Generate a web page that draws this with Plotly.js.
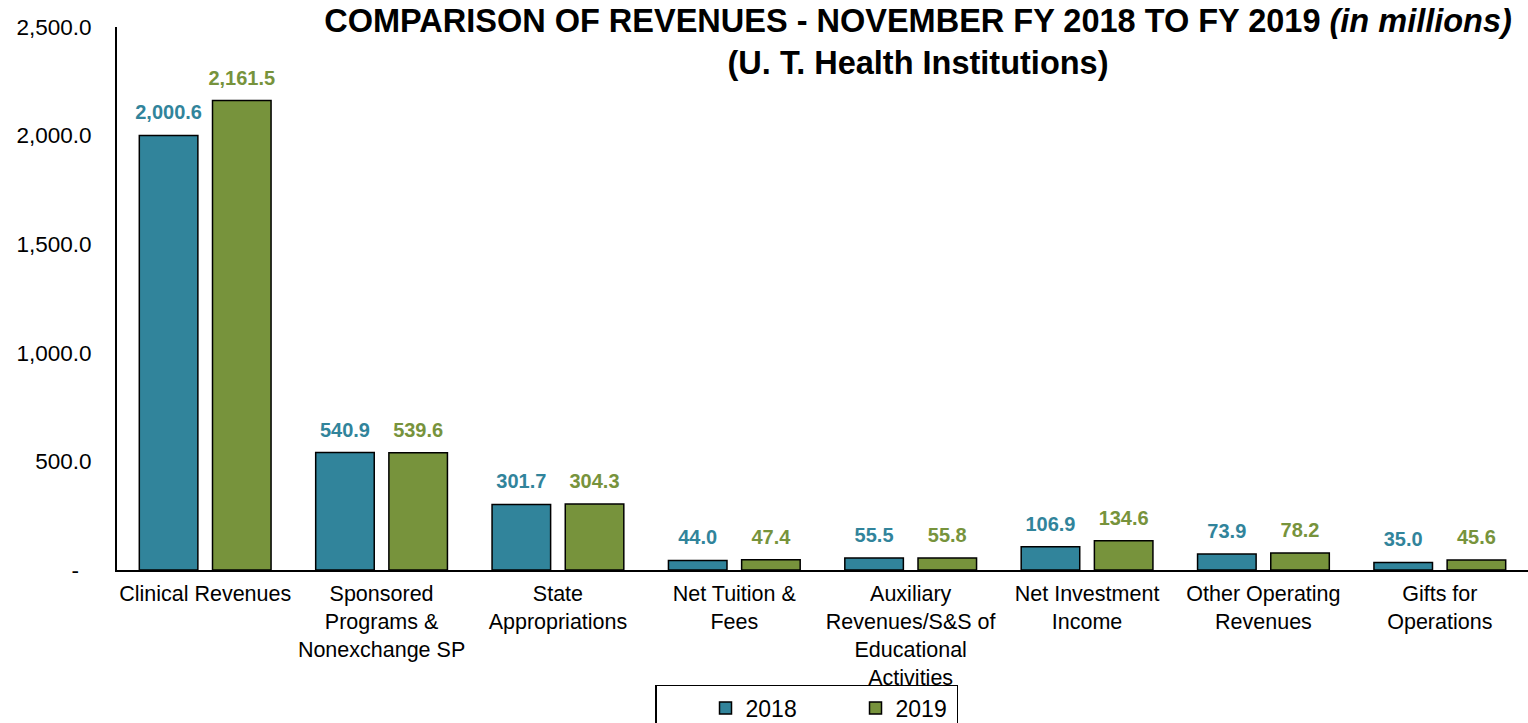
<!DOCTYPE html>
<html>
<head>
<meta charset="utf-8">
<script src="https://cdn.plot.ly/plotly-3.0.1.min.js"></script>
<style>
  html, body { margin: 0; padding: 0; background: #ffffff; }
  #chart { width: 1528px; height: 723px; }
</style>
</head>
<body>
<div id="chart"></div>
<script>
// ---- data ----
const categories = [
  "Clinical Revenues",
  "Sponsored<br>Programs &amp;<br>Nonexchange SP",
  "State<br>Appropriations",
  "Net Tuition &amp;<br>Fees",
  "Auxiliary<br>Revenues/S&amp;S of<br>Educational<br>Activities",
  "Net Investment<br>Income",
  "Other Operating<br>Revenues",
  "Gifts for<br>Operations"
];
const values2018 = [2000.6, 540.9, 301.7, 44.0, 55.5, 106.9, 73.9, 35.0];
const values2019 = [2161.5, 539.6, 304.3, 47.4, 55.8, 134.6, 78.2, 45.6];
const seriesNames = ["2018", "2019"];
const yTickVals = [0, 500, 1000, 1500, 2000, 2500];
const yTickText = ["-\u00a0\u00a0", "500.0", "1,000.0", "1,500.0", "2,000.0", "2,500.0"];

// ---- style ----
const FONT = "Liberation Sans, Arial, Helvetica, sans-serif";
const C2018 = "#31849B";
const C2019 = "#77933C";

function barTrace(name, vals, color) {
  return {
    type: "bar", name: name, x: categories, y: vals,
    offsetgroup: name,
    marker: { color: color, line: { color: "#000000", width: 1.5 } },
    hoverinfo: "x+y"
  };
}
function labelTrace(name, vals, color) {
  return {
    type: "scatter", mode: "markers+text", name: name + " label",
    x: categories, y: vals, offsetgroup: name,
    showlegend: false, hoverinfo: "skip",
    marker: { size: 16, color: "rgba(0,0,0,0)" },
    texttemplate: "<b>%{y:,.1f}</b>",
    textposition: "top center",
    textfont: { family: FONT, size: 20, color: color },
    cliponaxis: false
  };
}

const data = [
  barTrace(seriesNames[0], values2018, C2018),
  barTrace(seriesNames[1], values2019, C2019),
  labelTrace(seriesNames[0], values2018, C2018),
  labelTrace(seriesNames[1], values2019, C2019)
];

const layout = {
  width: 1528, height: 723,
  margin: { l: 117, r: 0, t: 27, b: 153, pad: 0 },
  paper_bgcolor: "#ffffff", plot_bgcolor: "#ffffff",
  font: { family: FONT, size: 21.5, color: "#000000" },
  barmode: "group",
  bargap: 0.17,
  bargroupgap: 0.2,
  scattermode: "group",
  scattergap: 0.17,
  title: {
    text: "<b>COMPARISON OF REVENUES - NOVEMBER FY 2018 TO FY 2019 <i>(in millions)</i></b><br><b>(U. T. Health Institutions)</b>",
    font: { family: FONT, size: 32.5, color: "#000000" },
    xref: "container", x: 0.6008, xanchor: "center",
    yref: "container", y: 0.956, yanchor: "top"
  },
  xaxis: {
    type: "category",
    showline: true, linecolor: "#000000", linewidth: 2,
    showgrid: false, zeroline: false, ticks: "",
    tickfont: { family: FONT, size: 21.5, color: "#000000" },
    ticklabelstandoff: 3,
    automargin: false,
    fixedrange: true
  },
  yaxis: {
    range: [0, 2500],
    tickvals: yTickVals, ticktext: yTickText,
    showline: true, linecolor: "#000000", linewidth: 2,
    showgrid: false, zeroline: false, ticks: "",
    tickfont: { family: FONT, size: 22.5, color: "#000000" },
    ticklabelstandoff: 19,
    automargin: false,
    fixedrange: true
  },
  showlegend: true,
  legend: {
    orientation: "h",
    xref: "paper", x: 0.3813, xanchor: "left",
    yref: "container", y: 0.0526, yanchor: "top",
    bordercolor: "#000000", borderwidth: 1.5,
    bgcolor: "rgba(255,255,255,0)",
    font: { family: FONT, size: 23, color: "#000000" },
    entrywidth: 56,
    indentation: 49,
    traceorder: "normal"
  }
};

Plotly.newPlot("chart", data, layout, { displayModeBar: false, staticPlot: true });
</script>
</body>
</html>
